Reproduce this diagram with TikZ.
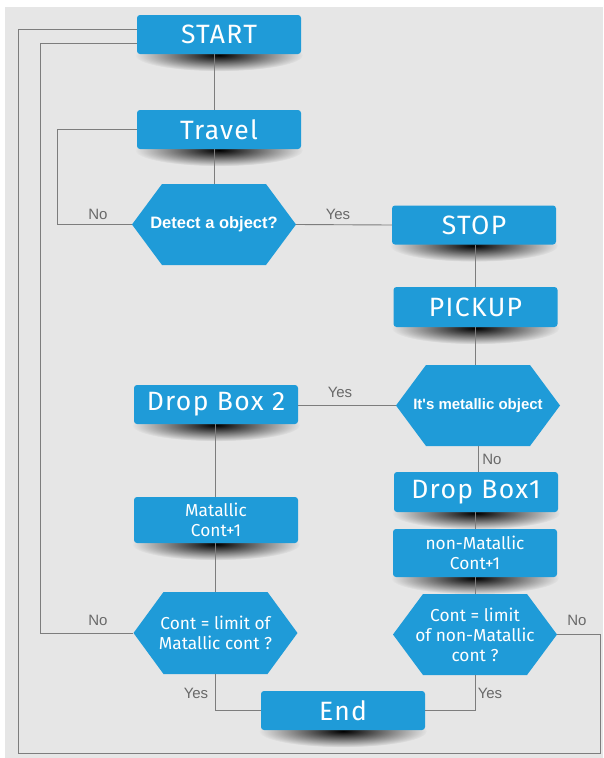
\documentclass[tikz,border=0pt]{standalone}
\usepackage{fontspec}
\setmainfont{Fira Sans}
\newfontfamily\boxfont[LetterSpace=5]{Fira Sans}
\newfontfamily\arialfont{Liberation Sans}
\usetikzlibrary{fadings,calc}
\definecolor{boxblue}{RGB}{31,155,216}
\definecolor{bggray}{RGB}{230,230,230}
\definecolor{linegray}{RGB}{125,125,125}
\definecolor{labelgray}{RGB}{105,105,105}
\tikzfading[name=shadowfade, inner color=transparent!0, outer color=transparent!100]
\pgfdeclarelayer{bg}
\pgfsetlayers{bg,main}
\tikzset{
  boxnode/.style={fill=boxblue, rounded corners=3pt, minimum width=164pt, minimum height=39pt, text=white, inner sep=0pt, align=center, font=\boxfont\fontsize{26.5}{28}\selectfont},
  smallbox/.style={boxnode, font=\fontsize{17.3}{20}\selectfont},
  hexnode/.style={minimum width=164pt, minimum height=81pt, inner sep=0pt, text=white, align=center, font=\fontsize{17.3}{20}\selectfont,
    path picture={\fill[boxblue] (path picture bounding box.west) -- ([xshift=30pt]path picture bounding box.north west) -- ([xshift=-30pt]path picture bounding box.north east) -- (path picture bounding box.east) -- ([xshift=-30pt]path picture bounding box.south east) -- ([xshift=30pt]path picture bounding box.south west) -- cycle;}},
  conn/.style={draw=linegray, line width=0.9pt},
  lbl/.style={text=labelgray, font=\arialfont\fontsize{15}{17}\selectfont, inner sep=0pt},
}
\newcommand{\boxshadow}[1]{\begin{pgfonlayer}{bg}\fill[black, path fading=shadowfade, fill opacity=1] ([yshift=-1pt]#1.south) ellipse [x radius=84pt, y radius=16pt];\end{pgfonlayer}}
\begin{document}
\begin{tikzpicture}[x=1pt,y=-1pt]
\begin{pgfonlayer}{bg}
\fill[white] (0,0) rectangle (603,758);
\fill[bggray] (5,7) rectangle (603,758);
\end{pgfonlayer}
\useasboundingbox (0,0) rectangle (603,758);

\node[boxnode] (start) at (219,34.5) {START};
\node[boxnode] (travel) at (219,129.5) {Travel};
\node[hexnode, font=\arialfont\bfseries\fontsize{16.5}{19}\selectfont] (detect) at (214,224.5) {Detect a object?};
\node[boxnode] (stop) at (474,225) {STOP};
\node[boxnode, minimum height=40pt] (pickup) at (475.5,307) {PICKUP};
\node[hexnode, font=\arialfont\bfseries\fontsize{15}{18}\selectfont] (metal) at (478,405.5) {It's metallic object};
\node[boxnode] (drop2) at (216,404.5) {Drop Box 2};
\node[boxnode, minimum height=40pt] (drop1) at (476,492) {Drop Box1};
\node[smallbox, minimum height=46pt] (mcount) at (216,520) {Matallic\\Cont+1};
\node[smallbox, minimum height=48pt] (ncount) at (475,553) {non-Matallic\\Cont+1};
\node[hexnode, minimum height=82pt] (mlimit) at (215.5,633) {Cont = limit of\\Matallic cont ?};
\node[hexnode] (nlimit) at (475,634.5) {Cont = limit\\of non-Matallic\\cont ?};
\node[boxnode] (endn) at (343,710.5) {End};

\foreach \n in {start,travel,stop,pickup,drop2,drop1,mcount,ncount,endn} {\boxshadow{\n}}

\coordinate (outerL) at (18,753);
\coordinate (outerR) at (600,753);
\coordinate (innerL) at (40,0);
\coordinate (travelL) at (57,0);

\draw[conn] ([yshift=5.5pt]start.west) -| (outerL) -- (outerR) |- (nlimit.east);
\draw[conn] ([yshift=-8.5pt]start.west) -| (innerL |- mlimit.west) -- (mlimit.west);
\draw[conn] (travel.west) -| (travelL |- detect.west) -- (detect.west);
\draw[conn] (start.south -| detect.north) -- (travel.north -| detect.north);
\draw[conn] (travel.south -| detect.north) -- (detect.north);
\draw[conn] (detect.east) -- (stop.west);
\draw[conn] (stop.south -| pickup.north) -- (pickup.north);
\draw[conn] (pickup.south) -- (pickup.south |- metal.north);
\draw[conn] (metal.west) -- (drop2.east |- metal.west);
\draw[conn] (metal.south) -- (metal.south |- drop1.north);
\draw[conn] (drop2.south -| mlimit.north) -- (mcount.north -| mlimit.north);
\draw[conn] (mcount.south -| mlimit.north) -- (mlimit.north);
\draw[conn] (drop1.south -| nlimit.north) -- (ncount.north -| nlimit.north);
\draw[conn] (ncount.south -| nlimit.north) -- (nlimit.north);
\draw[conn] (mlimit.south) |- (endn.west);
\draw[conn] (nlimit.south) |- (endn.east);

\node[lbl] (l1) at (98,214) {No};
\node[lbl] (l2) at (338,214) {Yes};
\node[lbl] (l3) at (340,392) {Yes};
\node[lbl] (l4) at (492,459) {No};
\node[lbl] (l5) at (98,620) {No};
\node[lbl] (l6) at (577,620) {No};
\node[lbl] (l7) at (196,693) {Yes};
\node[lbl] (l8) at (490,693) {Yes};
\end{tikzpicture}
\end{document}
